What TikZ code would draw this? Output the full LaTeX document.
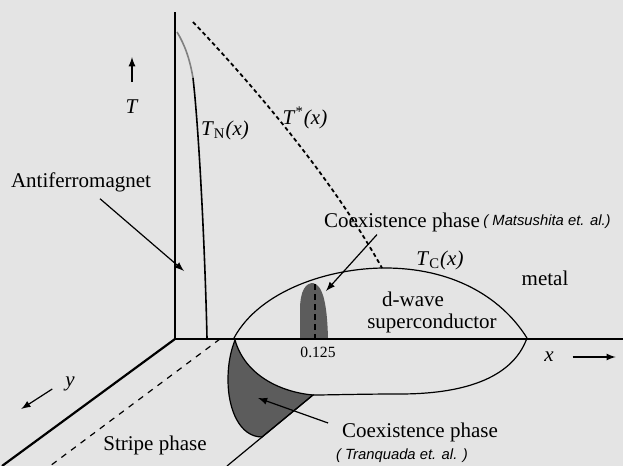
\documentclass[tikz,border=0pt]{standalone}
\usepackage{fontspec}
\setmainfont{Liberation Serif}
\setsansfont{Liberation Sans}
\usepackage{xcolor}
\usepackage{tikz}
\usetikzlibrary{calc}

\definecolor{nen}{RGB}{228,228,228}
\definecolor{vung}{RGB}{92,92,92}
\tikzset{
    lbl/.style={font=\fontsize{10.5}{12}\selectfont},
    cite/.style={font=\sffamily\itshape\fontsize{7.4}{9}\selectfont},
    nho/.style={font=\fontsize{7.8}{9}\selectfont},
    truc/.style={line width=1.1pt},
    chi/.style={line width=0.6pt}
}

\begin{document}
\begin{tikzpicture}[>=latex, x=0.5pt, y=-0.5pt]
    % Nền
    \fill[nen] (0,0) rectangle (623,466);
    \useasboundingbox (0,0) rectangle (623,466);

    % Vùng đồng tồn tại
    \fill[vung] (300,338) -- (300,310) .. controls (300,290) and (306,283) .. (313,283)
        .. controls (322,285) and (327,300) .. (328,338) -- cycle;
    \draw[densely dashed, line width=0.7pt] (315,284) -- (315,338);
    \filldraw[fill=vung, chi] (235,340) .. controls (245,375) and (280,392) .. (313,395)
        -- (262,437) .. controls (240,437) and (228,410) .. (228,380)
        .. controls (228,360) and (232,348) .. (235,340) -- cycle;

    % Hệ trục
    \draw[line width=1.4pt] (175,12) -- (175,340);
    \draw[truc] (174,339) -- (623,339);
    \draw[truc] (175,339) -- (2,466);
    \draw[dashed, chi] (220,339) -- (50,466);
    \draw[chi] (313,395) -- (227,466);

    % Đường T_N và T*
    \draw[gray, line width=0.8pt] (177,32) .. controls (185,45) and (190,60) .. (193,78);
    \draw[line width=0.8pt] (193,78) .. controls (199,130) and (205,250) .. (207,338);
    \draw[line width=0.9pt, dash pattern=on 2pt off 1.5pt] (193,22)
        .. controls (253,85) and (332,178) .. (382,268);

    % Vòm siêu dẫn
    \draw[chi] (234,338) .. controls (260,290) and (330,268) .. (385,268)
        .. controls (450,268) and (500,295) .. (527,338);
    \draw[chi] (527,338) .. controls (512,380) and (460,394) .. (400,394)
        .. controls (360,394) and (330,395) .. (313,395);

    % Nhãn
    \node[lbl] (afm) at (81,182) {Antiferromagnet};
    \node[lbl] (tlab) at (132,107) {\textit{T}};
    \node[lbl] (tn) at (225,130) {\textit{T}\textsubscript{N}\textit{(x)}};
    \node[lbl] (ts) at (305,118) {\textit{T}\textsuperscript{*}\textit{(x)}};
    \node[lbl] (coexa) at (402,222) {Coexistence phase};
    \node[cite] (refa) at (547,222) {( Matsushita et. al.)};
    \node[lbl] (tc) at (440,260) {\textit{T}\textsubscript{C}\textit{(x)}};
    \node[lbl] (metal) at (545,278) {metal};
    \node[lbl] (dw) at (413,299) {d-wave};
    \node[lbl] (sc) at (432,323) {superconductor};
    \node[nho] (xc) at (318,352) {0.125};
    \node[lbl] (xlab) at (549,357) {\textit{x}};
    \node[lbl] (ylab) at (70,384) {\textit{y}};
    \node[lbl] (stripe) at (155,445) {Stripe phase};
    \node[lbl] (coexb) at (420,432) {Coexistence phase};
    \node[cite] (refb) at (402,456) {( Tranquada et. al. )};

    % Mũi tên
    \coordinate (afmtip) at (184,271);
    \coordinate (coexatip) at (326,291);
    \coordinate (coexbtip) at (258,398);
    \draw[->, chi] ($(afm.south)+(19,0)$) -- (afmtip);
    \draw[->, chi] ($(coexa.south)+(-25,-4)$) -- (coexatip);
    \draw[->, chi] ($(coexb.west)+(-7,-9)$) -- (coexbtip);
    \draw[->, chi] ($(tlab.north)+(0,-11)$) -- ++(0,-25);
    \draw[->, chi] ($(xlab.east)+(12,0)$) -- ++(43,0);
    \draw[->, chi] ($(ylab.west)+(-6,5)$) -- ++(-31,20);
\end{tikzpicture}
\end{document}
